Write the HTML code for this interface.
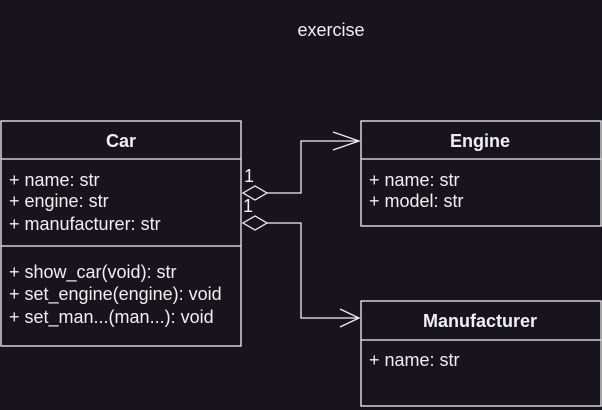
<!DOCTYPE html>
<html><head><style>
html,body{margin:0;padding:0;background:#18141d;}
svg{display:block;}
text{font-family:"Liberation Sans",sans-serif;fill:#f0f0f0;font-size:18px;}
</style></head><body>
<svg width="602" height="410" viewBox="0 0 602 410">
<rect width="602" height="410" fill="#18141d"/>
<text x="331" y="36" text-anchor="middle">exercise</text>
<g fill="none" stroke="#f0f0f0" stroke-width="1.3">
<rect x="1" y="121" width="240" height="225"/>
<line x1="1" y1="159" x2="241" y2="159"/>
<line x1="1" y1="246" x2="241" y2="246"/>
<rect x="361" y="121" width="240" height="105"/>
<line x1="361" y1="159" x2="601" y2="159"/>
<rect x="361" y="301" width="240" height="105"/>
<line x1="361" y1="340" x2="601" y2="340"/>
<polyline points="267,193 301,193 301,141 359,141"/>
<polyline points="333,132 359,141 333,150"/>
<polygon points="243,193 255,186 267,193 255,200"/>
<polyline points="267,223 301,223 301,318 359,318"/>
<polyline points="340,309 359,318 340,327"/>
<polygon points="243,223 255,216 267,223 255,230"/>
</g>
<text x="121" y="147" text-anchor="middle" font-weight="bold">Car</text>
<text x="9" y="186">+ name: str</text>
<text x="9" y="207">+ engine: str</text>
<text x="9" y="230">+ manufacturer: str</text>
<text x="9" y="278">+ show_car(void): str</text>
<text x="9" y="300">+ set_engine(engine): void</text>
<text x="9" y="323">+ set_man...(man...): void</text>
<text x="480" y="147" text-anchor="middle" font-weight="bold">Engine</text>
<text x="369" y="186">+ name: str</text>
<text x="369" y="207">+ model: str</text>
<text x="480" y="327" text-anchor="middle" font-weight="bold">Manufacturer</text>
<text x="369" y="366">+ name: str</text>
<text x="244" y="182" font-size="15">1</text>
<text x="243" y="212" font-size="15">1</text>
</svg>
</body></html>
